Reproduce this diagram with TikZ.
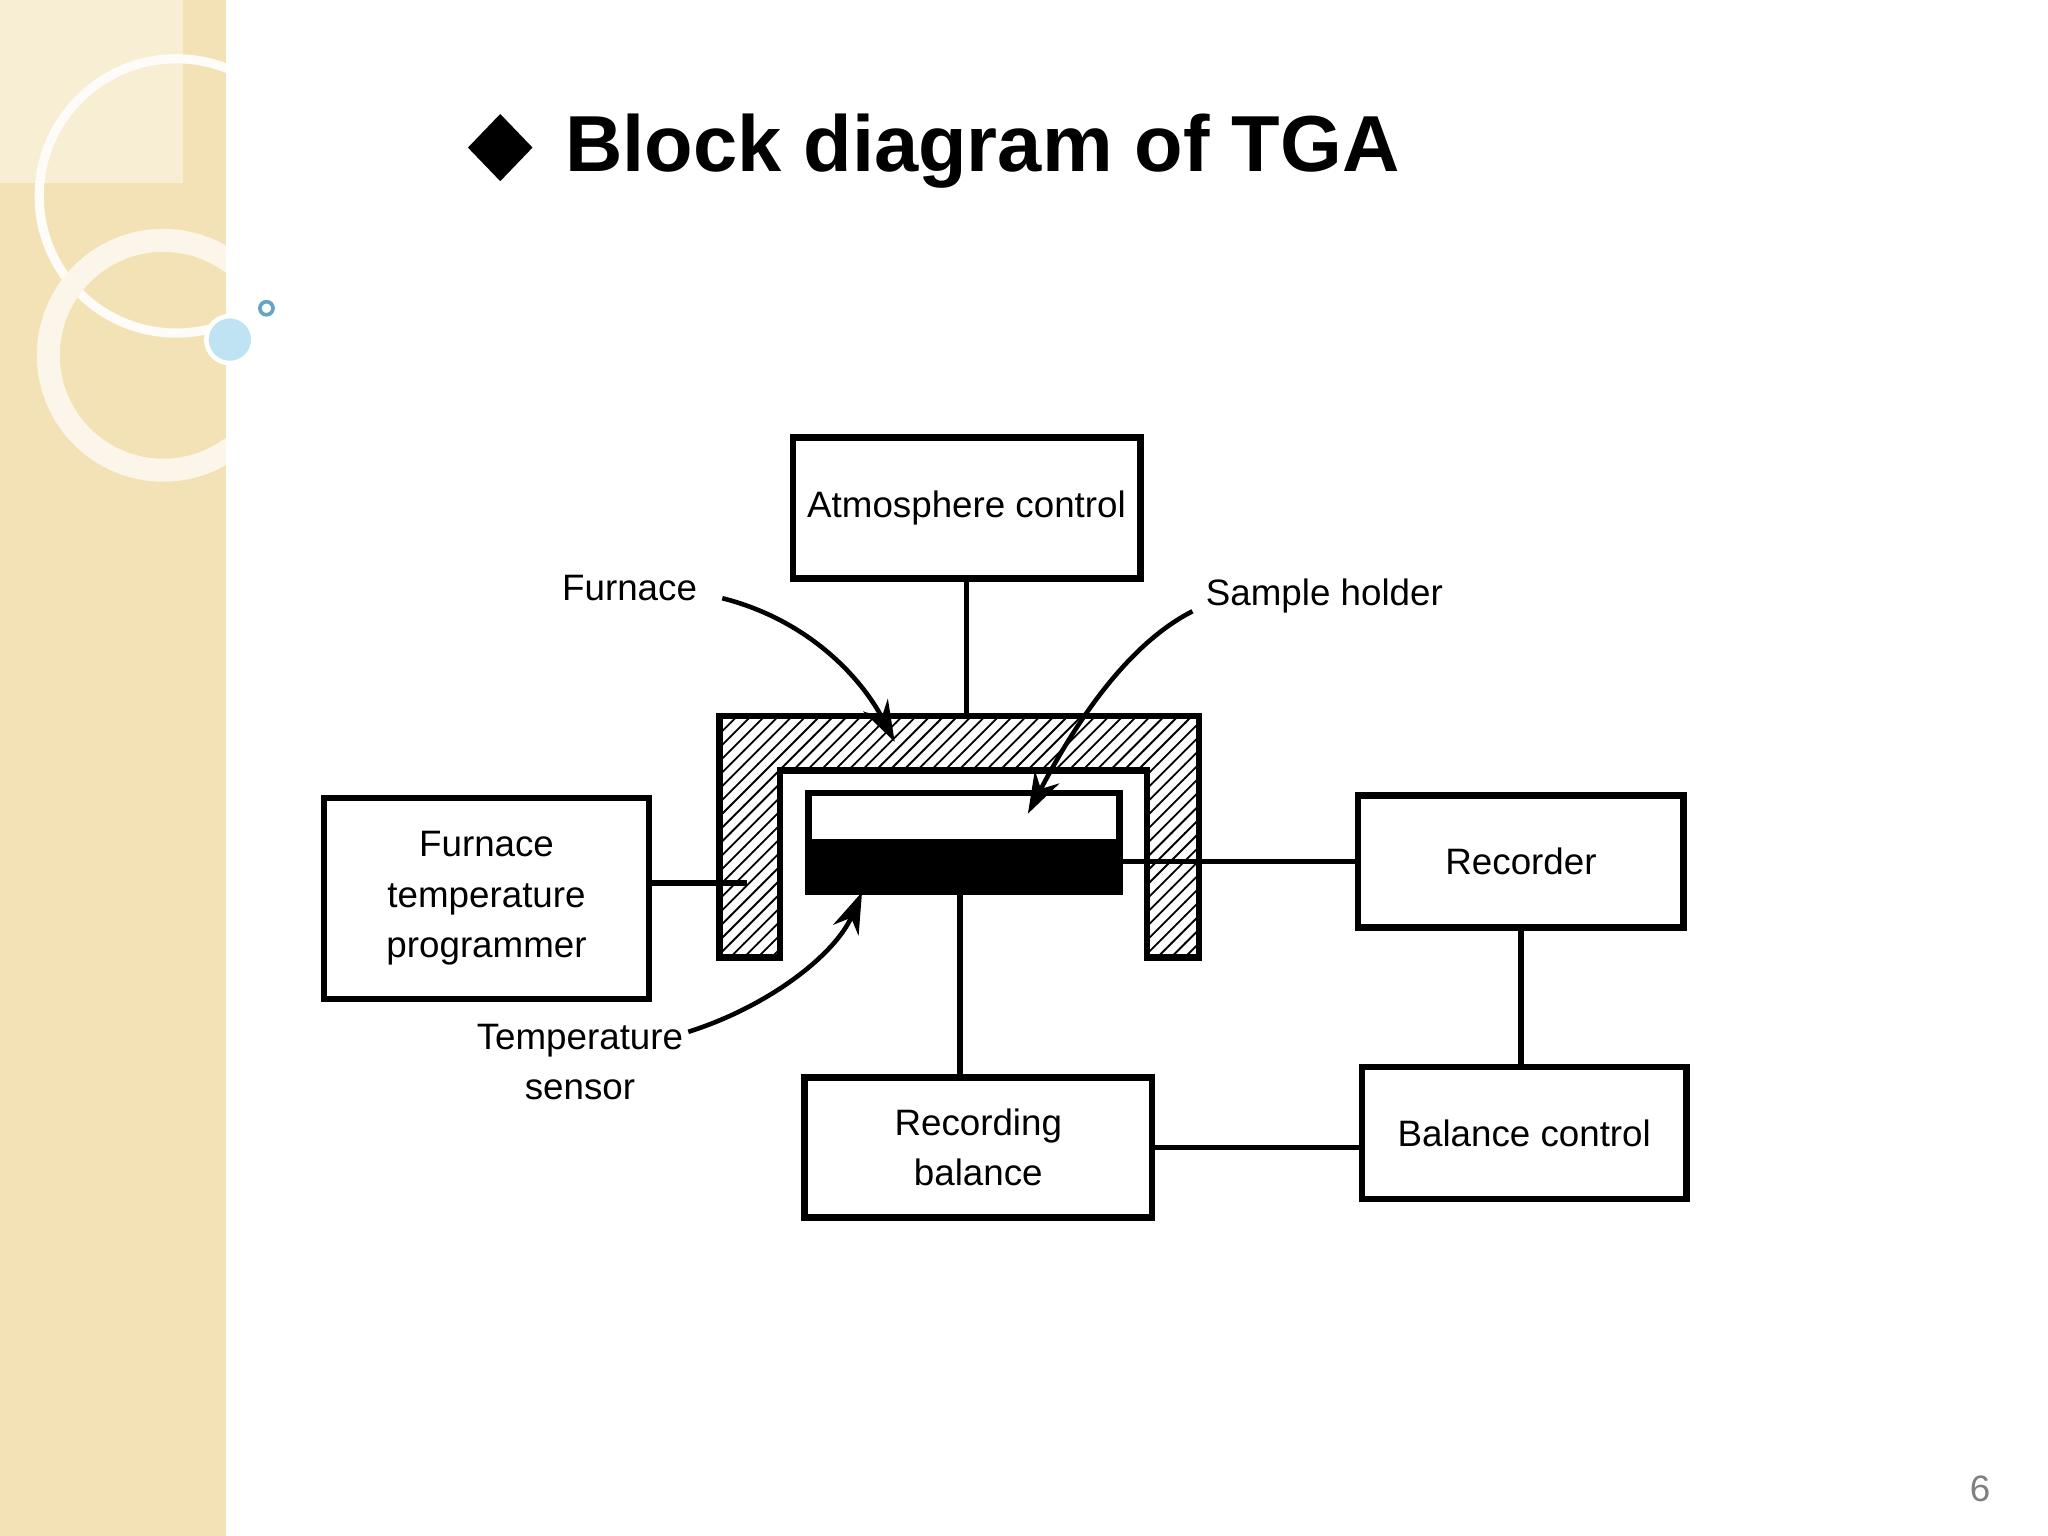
\documentclass[tikz,border=0pt]{standalone}
\usepackage{fontspec}
\setmainfont{Liberation Sans}
\usetikzlibrary{patterns,arrows.meta,shapes.geometric}
\definecolor{beige}{HTML}{F3E2B6}
\definecolor{bub}{HTML}{BFE3F2}
\begin{document}
\begin{tikzpicture}[x=0.01cm,y=-0.01cm,
 box/.style={draw,line width=1.4pt,align=center,font=\fontsize{8}{11}\selectfont,inner sep=0},
 lbl/.style={align=center,font=\fontsize{8}{11}\selectfont},
 wire/.style={line width=1.2pt},
 pointer/.style={line width=1pt,-{Stealth[length=9pt,width=6pt]}},
 hatch/.style={draw,line width=1.4pt,pattern=north east lines}]
\useasboundingbox (0,0) rectangle (1568,1176);
\fill[white] (0,0) rectangle (1568,1176);
% left decorative panel
\fill[beige] (0,0) rectangle (173,1176);
\fill[beige!60!white] (0,0) rectangle (140,140);
\begin{scope}
\clip (0,0) rectangle (173,1176);
\draw[white!90!beige,line width=2pt] (135,150) circle (105);
\draw[white!70!beige,line width=5pt] (125,272) circle (88);
\end{scope}
\fill[bub] (176,260) circle (18);
\draw[white,line width=1pt] (176,260) circle (18);
\draw[cyan!50!gray,line width=0.8pt] (204,236) circle (5);
% title
\node[diamond,fill=black,minimum width=0.5cm,minimum height=0.52cm,inner sep=0] (dm) at (383,113) {};
\node[anchor=base west,font=\fontsize{17.3}{20}\selectfont\bfseries,inner sep=0] (title) at (432,131) {Block diagram of TGA};
% boxes
\node[box,minimum width=2.66cm,minimum height=1.08cm] (atm) at (740,389) {Atmosphere control};
\node[box,minimum width=2.49cm,minimum height=1.54cm] (ftp) at (372.5,688) {Furnace\\temperature\\programmer};
\node[box,minimum width=2.49cm,minimum height=1.01cm] (rec) at (1164.5,659.5) {Recorder};
\node[box,minimum width=2.48cm,minimum height=1.01cm] (bc) at (1167,867.5) {Balance control};
\node[box,minimum width=2.66cm,minimum height=1.07cm] (rb) at (749,878.5) {Recording\\balance};
% furnace
\draw[hatch] (551,733) -- (551,548) -- (918,548) -- (918,733) -- (878,733) -- (878,590) -- (597,590) -- (597,733) -- cycle;
\coordinate (ftop) at (740,548);
\coordinate (fleft) at (572,676);
\node[draw,line width=1.4pt,fill=white,minimum width=2.38cm,minimum height=0.38cm,inner sep=0] (sh) at (738,626) {};
\node[draw,line width=1.4pt,fill=black,minimum width=2.38cm,minimum height=0.38cm,inner sep=0] (bar) at (738,664) {};
% connectors
\draw[wire] (atm.south) -- (ftop);
\draw[wire] (ftp.east |- fleft) -- (fleft);
\draw[wire] (bar.east |- rec.west) -- (rec.west);
\draw[wire] (rec.south) -- (rec.south |- bc.north);
\draw[wire] (735,683) -- (735,825);
\draw[wire] (rb.east) -- (bc.west |- rb.east);
% labels
\node[lbl] (lf) at (482,450) {Furnace};
\node[lbl] (ls) at (1014,456) {Sample holder};
\node[lbl] (lt) at (444,813) {Temperature\\sensor};
\draw[pointer] (553,458) .. controls (620,475) and (660,520) .. (685,568);
\draw[pointer] (913,468) .. controls (860,495) and (820,560) .. (787,623);
\draw[pointer] (527,790) .. controls (590,770) and (640,730) .. (660,683);
\node[text=gray,font=\fontsize{8}{10}\selectfont] (pg) at (1516,1140) {6};
\end{tikzpicture}
\end{document}
